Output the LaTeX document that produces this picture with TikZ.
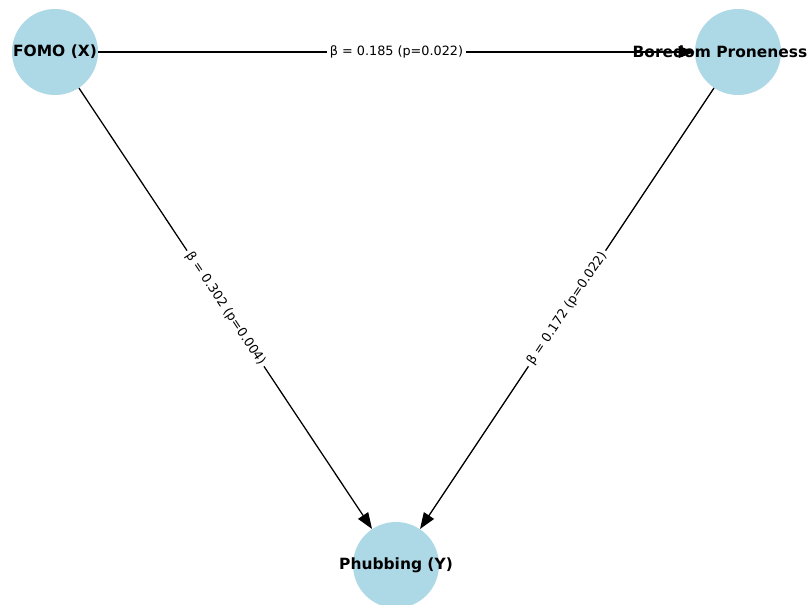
\documentclass[tikz,border=0pt]{standalone}
\usepackage{fontspec}
\setmainfont{DejaVu Sans}
\usepackage{tikz}
\usetikzlibrary{arrows.meta, positioning}
\definecolor{nodeblue}{RGB}{173,216,230}
\tikzset{
  var/.style={circle, fill=nodeblue, minimum size=2.15cm, inner sep=0pt},
  varname/.style={font=\fontsize{11}{13}\selectfont\bfseries},
  path/.style={-{Triangle[length=11.5pt, width=8.5pt]}, line width=0.9pt},
  coef/.style={fill=white, inner sep=2pt, font=\fontsize{9.1}{11}\selectfont}
}

\begin{document}
\begin{tikzpicture}[x=0.025cm, y=-0.025cm]
      \useasboundingbox (0,0) rectangle (811,605);
      % mediation model
      \node[var](FOMO) at (55, 52) {};
      \node[var](Boredom) at (738, 52) {};
      \node[var](Phubbing) at (396, 565) {};
      \node[varname] at (FOMO) {FOMO (X)};
      \node[varname] at (720, 52) {Boredom Proneness};
      \node[varname] at (Phubbing) {Phubbing (Y)};

      \draw[path] (FOMO) -- (Boredom) node[pos=0.5, coef] {β = 0.185 (p=0.022)};
      \draw[path] (FOMO) -- (Phubbing) node[pos=0.5, sloped, coef] {β = 0.302 (p=0.004)};
      \draw[path] (Boredom) -- (Phubbing) node[midway, sloped, coef] {β = 0.172 (p=0.022)};
    \end{tikzpicture}
\end{document}
